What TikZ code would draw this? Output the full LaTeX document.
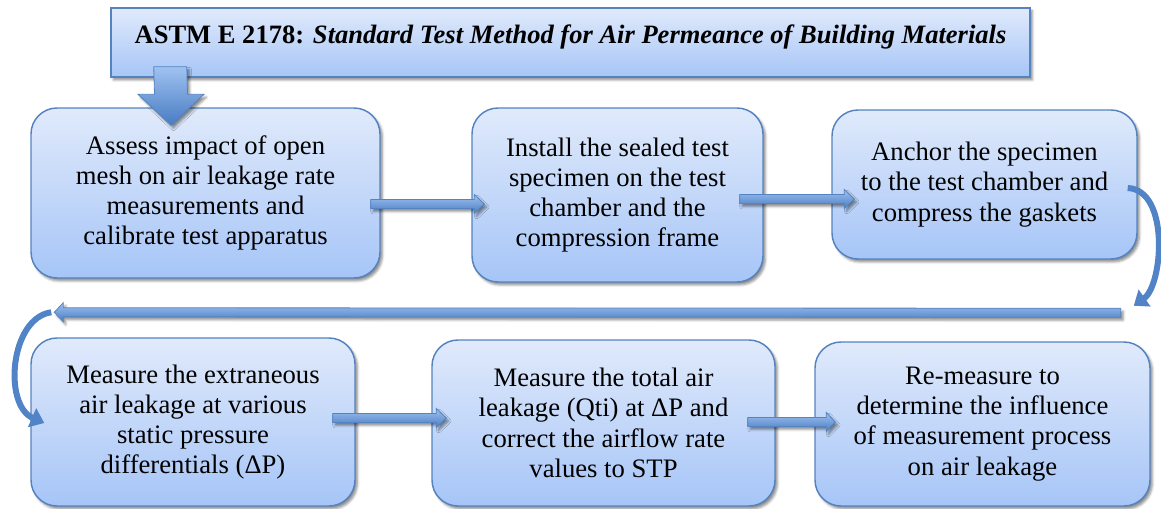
\documentclass[tikz,border=0pt]{standalone}
\usepackage{fontspec}
\setmainfont{Liberation Serif}
\usetikzlibrary{positioning}
\usetikzlibrary{calc}
\usetikzlibrary{arrows.meta}
\usetikzlibrary{shadows.blur}

\definecolor{boxtop}{RGB}{224,234,251}
\definecolor{boxbot}{RGB}{166,197,247}
\definecolor{boxline}{RGB}{84,131,192}
\definecolor{arrtop}{RGB}{160,194,240}
\definecolor{arrbot}{RGB}{72,124,196}

\newcommand{\px}{0.75pt}
% horizontal block arrow: start, tip, signed head length
\newcommand{\harrow}[3]{%
  \path[blockarrow] ($(#1)+(0,-4.5)$) -- ($(#2)-(#3,4.5)$) -- ($(#2)-(#3,9.5)$) -- (#2)
    -- ($(#2)-(#3,-9.5)$) -- ($(#2)-(#3,-4.5)$) -- ($(#1)+(0,4.5)$) -- cycle;}

\begin{document}
\begin{tikzpicture}[x=0.75pt,y=-0.75pt,
  shade/.style={blur shadow={shadow xshift=1.8pt,shadow yshift=-2.2pt,shadow blur radius=1.8pt,shadow opacity=45}},
  stepbox/.style={draw=boxline,line width=1.1pt,rounded corners=26*\px,top color=boxtop,bottom color=boxbot,
    shade,align=center,inner sep=0pt,font=\fontsize{20}{22.7}\selectfont},
  titlebox/.style={draw=boxline,line width=1.1pt,top color=boxtop,bottom color=boxbot,shade,
    inner xsep=0pt,inner ysep=0pt,font=\fontsize{19.9}{22}\selectfont},
  blockarrow/.style={draw=boxline,line width=0.6pt,top color=arrtop,bottom color=arrbot,shade},
  curvearrow/.style={draw=arrbot!95,line width=6*\px,-{Triangle[width=15pt,length=10pt]}}]
\useasboundingbox (0,0) rectangle (1161,508);

%Shape: title
\node[titlebox,anchor=base,minimum width=919*\px,text height=35*\px,text depth=34*\px] (title) at (570.5,43)
  {\textbf{ASTM E 2178: \textit{Standard Test Method for Air Permeance of Building Materials}}};

%Shape: steps, first row
\node[stepbox,minimum width=349*\px,minimum height=170*\px] (assess) at (205.5,193)
  {Assess impact of open\\mesh on air leakage rate\\measurements and\\calibrate test apparatus};
\node[stepbox,minimum width=291*\px,minimum height=174*\px] (install) at (617.5,195)
  {Install the sealed test\\specimen on the test\\chamber and the\\compression frame};
\node[stepbox,minimum width=305*\px,minimum height=149*\px] (anchor) at (984.5,184.5)
  {Anchor the specimen\\to the test chamber and\\compress the gaskets};

%Shape: steps, second row
\node[stepbox,minimum width=324*\px,minimum height=168*\px] (extra) at (193,422)
  {Measure the extraneous\\air leakage at various\\static pressure\\differentials (ΔP)};
\node[stepbox,minimum width=343*\px,minimum height=166*\px] (total) at (603.5,423)
  {Measure the total air\\leakage (Qti) at ΔP and\\correct the airflow rate\\values to STP};
\node[stepbox,minimum width=335*\px,minimum height=164*\px] (remeasure) at (982.5,424)
  {Re-measure to\\determine the influence\\of measurement process\\on air leakage};

%Shape: down arrow from the title
\coordinate (dtop) at ($(title.south west)+(60,-11)$);
\coordinate (dtip) at ($(assess.north)+(-34.5,18)$);
\path[blockarrow] ($(dtop)+(-16.5,0)$) -- ($(dtip)+(-16.5,-31)$) -- ($(dtip)+(-33,-31)$) -- (dtip)
  -- ($(dtip)+(33,-31)$) -- ($(dtip)+(16.5,-31)$) -- ($(dtop)+(16.5,0)$) -- cycle;

%Shape: arrows between the steps
\coordinate (a1s) at ($(assess.east)+(-10,11)$);
\coordinate (a1e) at ($(install.west)+(13,9)$);
\coordinate (a2s) at ($(install.east)+(-24,4)$);
\coordinate (a2e) at ($(anchor.west)+(23,14.5)$);
\coordinate (a3s) at ($(extra.east)+(-23,-4)$);
\coordinate (a3e) at ($(total.west)+(15,-5)$);
\coordinate (a4s) at ($(total.east)+(-28,-1)$);
\coordinate (a4e) at ($(remeasure.west)+(21,-2)$);
\harrow{a1s}{a1e}{10}
\harrow{a2s}{a2e}{10}
\harrow{a3s}{a3e}{10}
\harrow{a4s}{a4e}{9}

%Shape: long arrow back to the left
\coordinate (ls) at ($(anchor.south east)+(-17,53)$);
\coordinate (le) at ($(extra.north west)+(24,-25)$);
\harrow{ls}{le}{-9}

%Shape: curved arrows
\coordinate (c1s) at ($(anchor.east)+(-10,3.5)$);
\coordinate (c1e) at ($(ls)+(13,-7)$);
\draw[curvearrow] (c1s) .. controls (1170,190) and (1163,285) .. (c1e);
\coordinate (c2s) at ($(le)+(-3,0)$);
\coordinate (c2e) at ($(extra.west)+(14,1)$);
\draw[curvearrow] (c2s) .. controls (10,318) and (3,405) .. (c2e);

\end{tikzpicture}
\end{document}
